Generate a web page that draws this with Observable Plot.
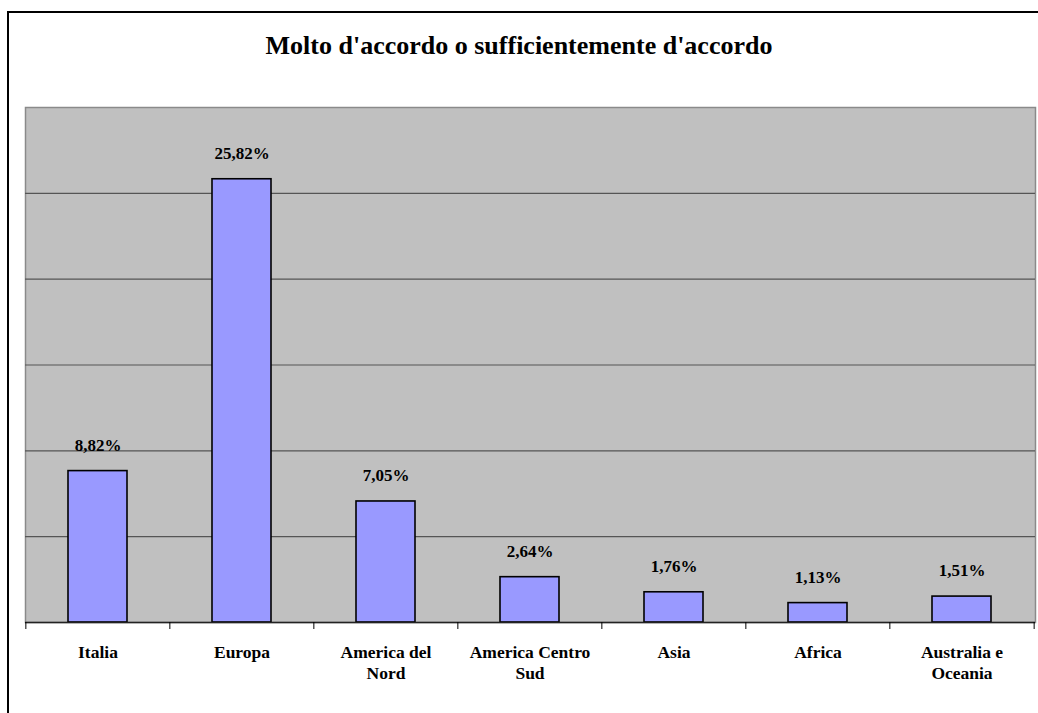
<!DOCTYPE html>
<html>
<head>
<meta charset="utf-8">
<script src="https://cdn.jsdelivr.net/npm/d3@7"></script>
<script src="https://cdn.jsdelivr.net/npm/@observablehq/plot@0.6"></script>
<style>
  html, body { margin: 0; padding: 0; background: #fff; overflow: hidden; }
  body { width: 1038px; height: 713px; position: relative; font-family: "Liberation Serif", serif; }
  #box { position: absolute; left: 7px; top: 11px; width: 1060px; height: 740px; border: 2px solid #000; box-sizing: border-box; }
  #title { position: absolute; left: 0; top: 31px; width: 1038px; text-align: center; font-weight: bold; font-size: 26px; line-height: 30px; color: #000; }
  #chart { position: absolute; left: 0; top: 0; }
</style>
</head>
<body>
<div id="box"></div>
<div id="title">Molto d'accordo o sufficientemente d'accordo</div>
<div id="chart"></div>
<script>
const categories = ["Italia", "Europa", "America del Nord", "America Centro Sud", "Asia", "Africa", "Australia e Oceania"];
const tickLabels = ["Italia", "Europa", "America del\nNord", "America Centro\nSud", "Asia", "Africa", "Australia e\nOceania"];
const values = [8.82, 25.82, 7.05, 2.64, 1.76, 1.13, 1.51];

const data = categories.map((c, i) => ({category: c, value: values[i]}));
const labelOf = new Map(categories.map((c, i) => [c, tickLabels[i]]));
const fmt = v => v.toFixed(2).replace(".", ",") + "%";

const W = 1038, H = 713, ML = 25, MR = 3;
const step = (W - ML - MR) / categories.length;

const chart = Plot.plot({
  width: W,
  height: H,
  marginLeft: ML,
  marginRight: MR,
  marginTop: 107,
  marginBottom: 91,
  style: {fontFamily: "Liberation Serif, serif", fontWeight: "bold", background: "transparent", color: "#000"},
  x: {domain: categories, paddingInner: 0.59, paddingOuter: 0.295, label: null},
  y: {domain: [0, 30], axis: null},
  marks: [
    Plot.frame({fill: "#c0c0c0", stroke: "#8a8a8a", strokeWidth: 1.5}),
    Plot.gridY([5, 10, 15, 20, 25], {stroke: "#555", strokeOpacity: 1, strokeWidth: 1.2}),
    Plot.barY(data, {x: "category", y: "value", fill: "#9999ff", stroke: "#000", strokeWidth: 1.6}),
    Plot.ruleY([0], {stroke: "#222", strokeWidth: 1.5}),
    Plot.text(data, {x: "category", y: "value", text: d => fmt(d.value), dy: -26, fontSize: 17, fontWeight: "bold", fill: "#000", lineAnchor: "middle"}),
    Plot.axisX({tickSize: 7, text: null, dx: -step / 2, stroke: "#000"}),
    Plot.axisX([categories[categories.length - 1]], {tickSize: 7, text: null, dx: step / 2, stroke: "#000"}),
    Plot.axisX({tickSize: 0, tickPadding: 21, tickFormat: c => labelOf.get(c), fontSize: 17.5, fontWeight: "bold", fill: "#000", lineHeight: 1.2})
  ]
});
document.getElementById("chart").appendChild(chart);
</script>
</body>
</html>
